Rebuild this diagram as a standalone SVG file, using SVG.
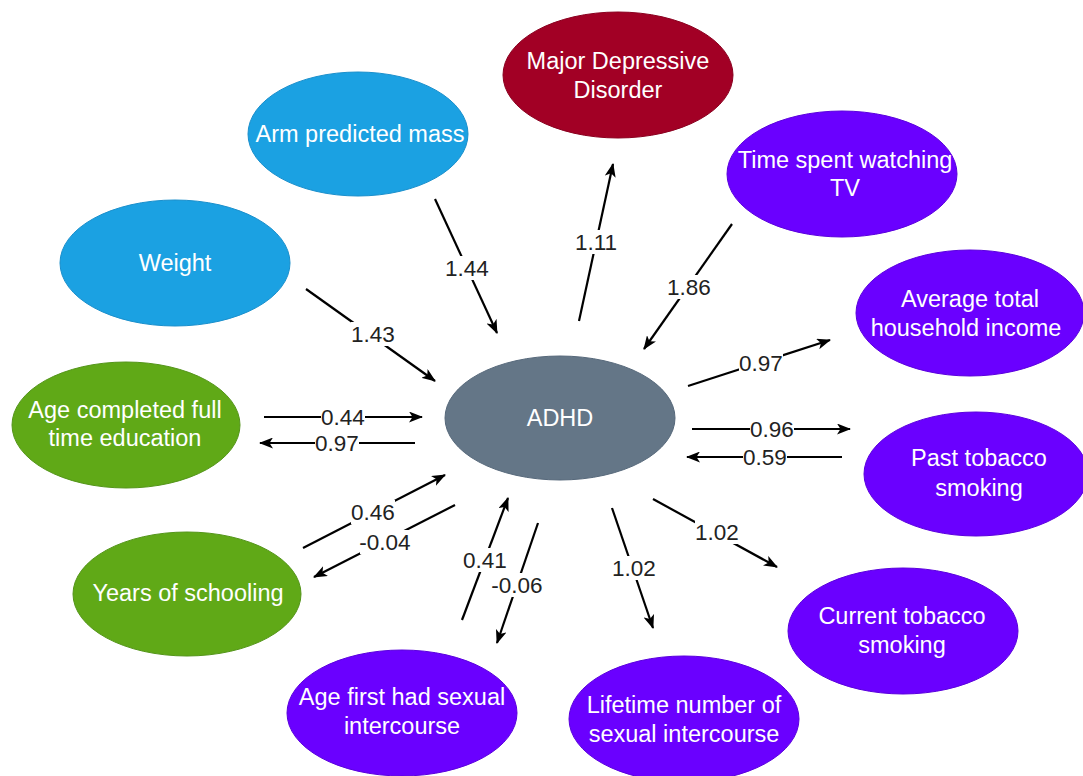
<svg xmlns="http://www.w3.org/2000/svg" width="1083" height="776" viewBox="0 0 1083 776">
<defs>
<style>
.n text{font-family:"Liberation Sans",Arial,sans-serif;font-size:23.5px;fill:#fff;text-anchor:middle}
.blue{fill:#1ba1e2;stroke:#1a8fcc;stroke-width:1}
.red{fill:#a20025;stroke:#8a001f;stroke-width:1}
.purple{fill:#6a00ff;stroke:#5a00dd;stroke-width:1}
.green{fill:#60a917;stroke:#54951a;stroke-width:1}
.gray{fill:#647687;stroke:#56687a;stroke-width:1}
.e line{stroke:#000;stroke-width:2.2;marker-end:url(#arr)}
.e rect{fill:#fff}
.e text{font-family:"Liberation Sans",Arial,sans-serif;font-size:22.5px;fill:#222;text-anchor:middle}
</style>
<marker id="arr" viewBox="0 0 14 11" refX="13" refY="5.5" markerWidth="14" markerHeight="11" markerUnits="userSpaceOnUse" orient="auto">
<path d="M0,0 L14,5.5 L0,11 L3.5,5.5 z" fill="#000"/>
</marker>
</defs>
<rect width="1083" height="776" fill="#fff"/>

<g id="connectors" class="e">
<line x1="435" y1="199" x2="497" y2="333"/>
<line x1="306" y1="289" x2="435" y2="381"/>
<line x1="579" y1="321" x2="613" y2="164"/>
<line x1="732" y1="224" x2="644" y2="349"/>
<line x1="688" y1="386" x2="830" y2="340"/>
<line x1="692" y1="429" x2="850" y2="429"/>
<line x1="842" y1="457" x2="687" y2="457"/>
<line x1="653" y1="499" x2="777" y2="567"/>
<line x1="612" y1="508" x2="653" y2="628"/>
<line x1="264" y1="417" x2="422" y2="417"/>
<line x1="415" y1="443" x2="260" y2="443"/>
<line x1="303" y1="548" x2="445" y2="475"/>
<line x1="455" y1="505" x2="314" y2="577"/>
<line x1="462" y1="620" x2="508" y2="498"/>
<line x1="538" y1="523" x2="497" y2="643"/>

<rect x="445" y="256" width="44" height="24"/><text x="467" y="276">1.44</text>
<rect x="351" y="322" width="44" height="24"/><text x="373" y="342">1.43</text>
<rect x="577" y="230" width="40" height="24"/><text x="596" y="250">1.11</text>
<rect x="667" y="275" width="44" height="24"/><text x="689" y="295">1.86</text>
<rect x="739" y="351" width="44" height="24"/><text x="761" y="371">0.97</text>
<rect x="750" y="418" width="44" height="22"/><text x="772" y="437">0.96</text>
<rect x="743" y="446" width="44" height="22"/><text x="765" y="465">0.59</text>
<rect x="695" y="520" width="44" height="24"/><text x="717" y="540">1.02</text>
<rect x="612" y="556" width="44" height="24"/><text x="634" y="576">1.02</text>
<rect x="321" y="406" width="44" height="22"/><text x="343" y="425">0.44</text>
<rect x="315" y="432" width="44" height="22"/><text x="337" y="451">0.97</text>
<rect x="351" y="500" width="44" height="24"/><text x="373" y="520">0.46</text>
<rect x="360" y="530" width="50" height="24"/><text x="385" y="550">-0.04</text>
<rect x="463" y="548" width="44" height="24"/><text x="485" y="568">0.41</text>
<rect x="492" y="573" width="50" height="24"/><text x="517" y="593">-0.06</text>
</g>

<g id="node-mdd" class="n"><ellipse class="red" cx="618" cy="75" rx="115" ry="63"/><text x="618" y="69">Major Depressive</text><text x="618" y="98">Disorder</text></g>
<g id="node-arm" class="n"><ellipse class="blue" cx="358" cy="134" rx="110" ry="62"/><text x="360" y="142">Arm predicted mass</text></g>
<g id="node-tv" class="n"><ellipse class="purple" cx="842" cy="174" rx="115" ry="63"/><text x="845" y="168">Time spent watching</text><text x="845" y="196">TV</text></g>
<g id="node-weight" class="n"><ellipse class="blue" cx="175" cy="263" rx="115" ry="63"/><text x="175" y="271">Weight</text></g>
<g id="node-income" class="n"><ellipse class="purple" cx="970" cy="313" rx="114" ry="63"/><text x="970" y="307">Average total</text><text x="966" y="336">household income</text></g>
<g id="node-adhd" class="n"><ellipse class="gray" cx="560" cy="418" rx="115" ry="62"/><text x="560" y="426">ADHD</text></g>
<g id="node-edu" class="n"><ellipse class="green" cx="126" cy="425" rx="114" ry="63"/><text x="125" y="418">Age completed full</text><text x="125" y="446">time education</text></g>
<g id="node-past" class="n"><ellipse class="purple" cx="976" cy="474" rx="112" ry="62"/><text x="979" y="466">Past tobacco</text><text x="979" y="496">smoking</text></g>
<g id="node-school" class="n"><ellipse class="green" cx="187" cy="594" rx="114" ry="62"/><text x="188" y="601">Years of schooling</text></g>
<g id="node-current" class="n"><ellipse class="purple" cx="903" cy="631" rx="115" ry="63"/><text x="902" y="624">Current tobacco</text><text x="902" y="653">smoking</text></g>
<g id="node-agefirst" class="n"><ellipse class="purple" cx="402" cy="713" rx="115" ry="63"/><text x="402" y="705">Age first had sexual</text><text x="402" y="734">intercourse</text></g>
<g id="node-lifetime" class="n"><ellipse class="purple" cx="684" cy="719" rx="115" ry="63"/><text x="684" y="713">Lifetime number of</text><text x="684" y="742">sexual intercourse</text></g>
</svg>
